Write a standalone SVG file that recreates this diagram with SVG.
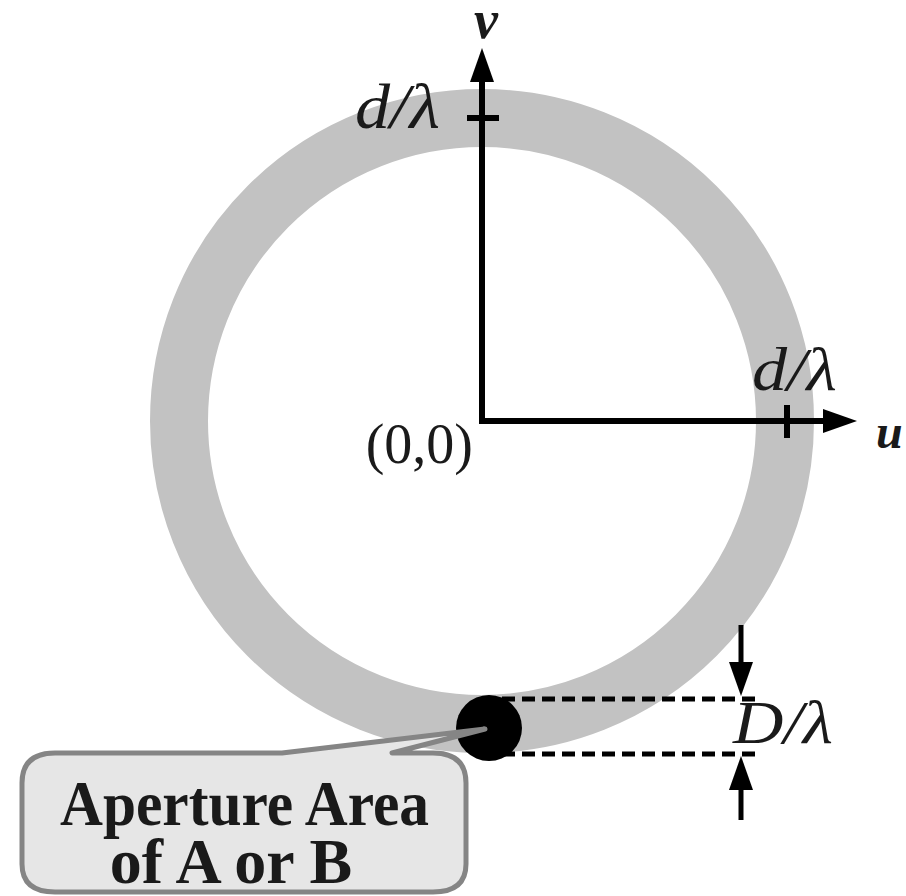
<svg xmlns="http://www.w3.org/2000/svg" width="906" height="896" viewBox="0 0 906 896">
  <style>
    .serif { font-family: "Liberation Serif", "Times New Roman", serif; fill: #1a1a1a; }
    .it { font-style: italic; }
    .bi { font-style: italic; font-weight: bold; }
    .bold { font-weight: bold; }
    .axis { fill: none; stroke: #000; stroke-width: 6; stroke-linejoin: miter; }
    .tick { stroke: #000; stroke-width: 6; }
    .dash { stroke: #000; stroke-width: 5; stroke-dasharray: 13 7; fill: none; }
    .dim { stroke: #000; stroke-width: 5; fill: none; }
  </style>
  <defs>
    <marker id="arrow" markerUnits="userSpaceOnUse" markerWidth="36" markerHeight="26" refX="0" refY="12" orient="auto">
      <path d="M0,0 L34,12 L0,24 Z" fill="#000"/>
    </marker>
  </defs>

  <rect width="906" height="896" fill="#fff"/>

  <g id="ring">
    <circle cx="482" cy="421" r="303" fill="none" stroke="#c2c2c2" stroke-width="58"/>
  </g>

  <g id="connectors">
    <path class="axis" d="M482,82 L482,421 L823,421"/>
    <line class="axis" x1="482" y1="200" x2="482" y2="82" marker-end="url(#arrow)"/>
    <line class="axis" x1="700" y1="421" x2="823" y2="421" marker-end="url(#arrow)"/>
    <line class="tick" x1="467" y1="118" x2="499" y2="118"/>
    <line class="tick" x1="787" y1="405" x2="787" y2="438"/>
    <line class="dash" x1="755" y1="699" x2="489" y2="699"/>
    <line class="dash" x1="755" y1="754" x2="489" y2="754"/>
    <line class="dim" x1="741" y1="625" x2="741" y2="662" marker-end="url(#arrow)"/>
    <line class="dim" x1="741" y1="820" x2="741" y2="790" marker-end="url(#arrow)"/>
  </g>

  <g id="aperture">
    <circle cx="489" cy="728" r="33" fill="#000"/>
  </g>

  <g id="labels">
    <text class="serif bi" x="486" y="38" font-size="54" text-anchor="middle">v</text>
    <text class="serif bi" x="876" y="448" font-size="48">u</text>
    <text class="serif it" x="355" y="128" font-size="64" textLength="85" lengthAdjust="spacingAndGlyphs">d/λ</text>
    <text class="serif it" x="752" y="390" font-size="62" textLength="85" lengthAdjust="spacingAndGlyphs">d/λ</text>
    <text class="serif" x="473" y="463" font-size="56" text-anchor="end">(0,0)</text>
    <text class="serif it" x="733" y="743" font-size="62" textLength="100" lengthAdjust="spacingAndGlyphs">D/λ</text>
  </g>

  <g id="callout">
    <path d="M55,753 L282,753 L485,729 L392,753 L433,753 Q466,753 466,783 L466,864 Q466,892 433,892 L55,892 Q22,892 22,864 L22,783 Q22,753 55,753 Z" fill="#e6e6e6" stroke="#858585" stroke-width="5" stroke-linejoin="round"/>
    <text class="serif bold" x="60" y="825" font-size="64" textLength="369" lengthAdjust="spacingAndGlyphs">Aperture Area</text>
    <text class="serif bold" x="231" y="883" font-size="64" text-anchor="middle">of A or B</text>
  </g>
</svg>
